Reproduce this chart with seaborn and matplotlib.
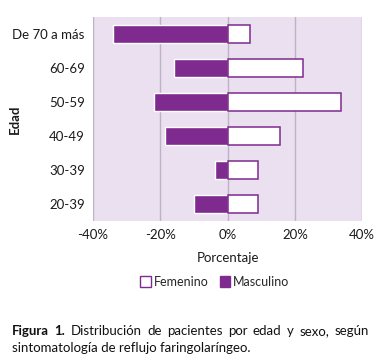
import pandas as pd
import seaborn as sns
import matplotlib
matplotlib.use("Agg")
import matplotlib.pyplot as plt
from matplotlib.patches import Patch
from matplotlib.ticker import FuncFormatter

# Data (percent of patients)
edades = ["De 70 a más", "60-69", "50-59", "40-49", "30-39", "20-39"]
femenino = [6.8, 22.3, 33.6, 15.7, 9.1, 9.1]
masculino = [34.1, 16.0, 22.0, 18.7, 3.8, 10.0]

purple = "#7F2A8E"
bg = "#EAE0F0"
txt = "#1a1a1a"

sns.set_theme(style="white")
plt.rcParams["font.family"] = ["Lato", "DejaVu Sans"]

df = pd.DataFrame({"edad": edades, "fem": femenino, "masc": [-m for m in masculino]})

fig = plt.figure(figsize=(3.8, 3.63), dpi=100)
ax = fig.add_axes([0.245, 0.392, 0.708, 0.561])
ax.set_facecolor(bg)

sns.barplot(data=df, x="masc", y="edad", order=edades, color=purple,
            width=0.54, saturation=1, ax=ax, zorder=3)
sns.barplot(data=df, x="fem", y="edad", order=edades, color="white",
            edgecolor=purple, linewidth=1.1, width=0.54, saturation=1, ax=ax, zorder=3)

ax.set_xlim(-40, 40)
ax.set_ylim(5.5, -0.5)
ax.set_xticks([-40, -20, 0, 20, 40])
ax.xaxis.set_major_formatter(FuncFormatter(lambda v, p: f"{int(v)}%"))
ax.grid(axis="x", color="#BDB2C6", linewidth=1, zorder=0)
ax.set_axisbelow(True)
for s in ax.spines.values():
    s.set_visible(False)
ax.tick_params(axis="both", length=0, labelsize=9.5, colors=txt)
ax.tick_params(axis="x", pad=6)
ax.tick_params(axis="y", pad=6)
ax.set_xlabel("Porcentaje", fontsize=9.5, labelpad=8, color=txt)
ax.set_ylabel("Edad", fontsize=9.5, fontweight="bold", color=txt)
ax.yaxis.set_label_coords(-0.27, 0.5)

handles = [Patch(facecolor="white", edgecolor=purple, linewidth=1, label="Femenino"),
           Patch(facecolor=purple, edgecolor=purple, label="Masculino")]
fig.legend(handles=handles, loc="center", bbox_to_anchor=(0.565, 0.224), ncol=2,
           frameon=False, fontsize=9, handlelength=0.85, handleheight=0.95,
           handletextpad=0.2, columnspacing=0.9, borderaxespad=0)

# caption, first line justified between x0 and x1
x0, x1 = 12 / 380, 369 / 380
words = [("Figura", "bold"), ("1.", "bold"), ("Distribución", "normal"), ("de", "normal"),
         ("pacientes", "normal"), ("por", "normal"), ("edad", "normal"), ("y", "normal"),
         ("sexo,", "normal"), ("según", "normal")]
renderer = fig.canvas.get_renderer()
items = []
for w, fw in words:
    t = fig.text(0, 1 - 335 / 363, w, fontsize=9.5, fontweight=fw, color="#111111", va="baseline")
    wd = t.get_window_extent(renderer).width / fig.bbox.width
    items.append((t, wd))
gap = (x1 - x0 - sum(wd for _, wd in items)) / (len(items) - 1)
x = x0
for t, wd in items:
    t.set_x(x)
    x += wd + gap
fig.text(x0, 1 - 352 / 363, "sintomatología de reflujo faringolaríngeo.",
         fontsize=9.5, color="#111111", va="baseline")

fig.savefig("out.png", dpi=100)
